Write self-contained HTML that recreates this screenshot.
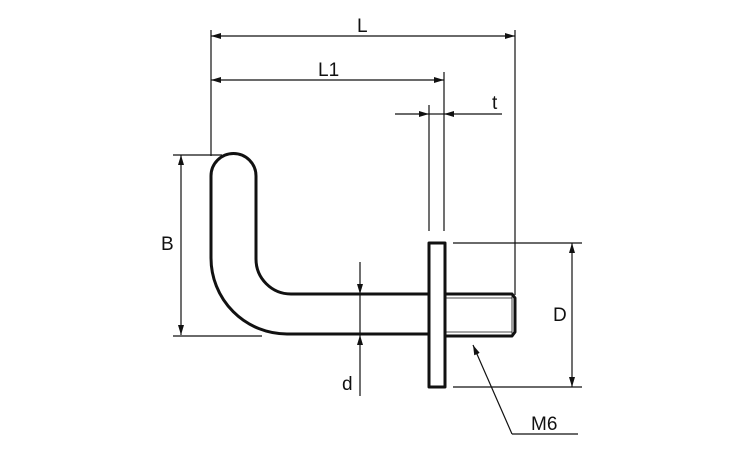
<!DOCTYPE html>
<html><head><style>body{margin:0;background:#fff}</style></head><body>
<svg width="750" height="450" xmlns="http://www.w3.org/2000/svg" style="display:block">
<defs>
<marker id="a" markerWidth="10" markerHeight="6" refX="10" refY="3" orient="auto-start-reverse" markerUnits="userSpaceOnUse"><path d="M0,0 L10,3 L0,6 Z" fill="#111"/></marker>
</defs>
<g stroke="#111" stroke-width="1.2" fill="none">
<!-- extension lines -->
<line x1="211" y1="30" x2="211" y2="156"/>
<line x1="515" y1="30" x2="515" y2="295"/>
<line x1="429" y1="105" x2="429" y2="231"/>
<line x1="444" y1="72" x2="444" y2="231"/>
<line x1="173" y1="155" x2="222" y2="155"/>
<line x1="173" y1="336" x2="262" y2="336"/>
<line x1="453" y1="243" x2="582" y2="243"/>
<line x1="453" y1="387" x2="582" y2="387"/>
<!-- dims -->
<line x1="211" y1="36" x2="515" y2="36" marker-start="url(#a)" marker-end="url(#a)"/>
<line x1="211" y1="80" x2="444" y2="80" marker-start="url(#a)" marker-end="url(#a)"/>
<line x1="395" y1="114" x2="429" y2="114" marker-end="url(#a)"/>
<line x1="444" y1="114" x2="429" y2="114"/>
<line x1="502" y1="114" x2="444" y2="114" marker-end="url(#a)"/>
<line x1="181" y1="155" x2="181" y2="335" marker-start="url(#a)" marker-end="url(#a)"/>
<line x1="572" y1="243" x2="572" y2="387" marker-start="url(#a)" marker-end="url(#a)"/>
<line x1="360" y1="262" x2="360" y2="294" marker-end="url(#a)"/>
<line x1="360" y1="396" x2="360" y2="335" marker-end="url(#a)"/>
<line x1="360" y1="294" x2="360" y2="335"/>
<line x1="512" y1="434" x2="473" y2="345" marker-end="url(#a)"/>
<line x1="512" y1="434" x2="578" y2="434"/>
</g>
<g stroke="#111" stroke-width="3" fill="none" stroke-linejoin="round">
<path d="M429,294 L291,294 A35,35 0 0 1 256,259 L256,176 A22.5,22.5 0 0 0 211,176 L211,258 A76,76 0 0 0 287,334 L429,334"/>
<rect x="429" y="243" width="16" height="144"/>
<path d="M446,294 L512,294 L515,298 L515,332 L512,336 L446,336"/>
</g>
<g stroke="#111" stroke-width="0.8">
<line x1="446" y1="298" x2="512" y2="298"/>
<line x1="446" y1="332" x2="512" y2="332"/>
<line x1="512" y1="294" x2="512" y2="336"/>
</g>
<g font-family="Liberation Sans, sans-serif" font-size="19" fill="#111">
<text x="357" y="32">L</text>
<text x="318" y="76">L1</text>
<text x="492" y="109">t</text>
<text x="161" y="250">B</text>
<text x="553" y="321">D</text>
<text x="342" y="390">d</text>
<text x="531" y="430">M6</text>
</g>
</svg>
</body></html>
